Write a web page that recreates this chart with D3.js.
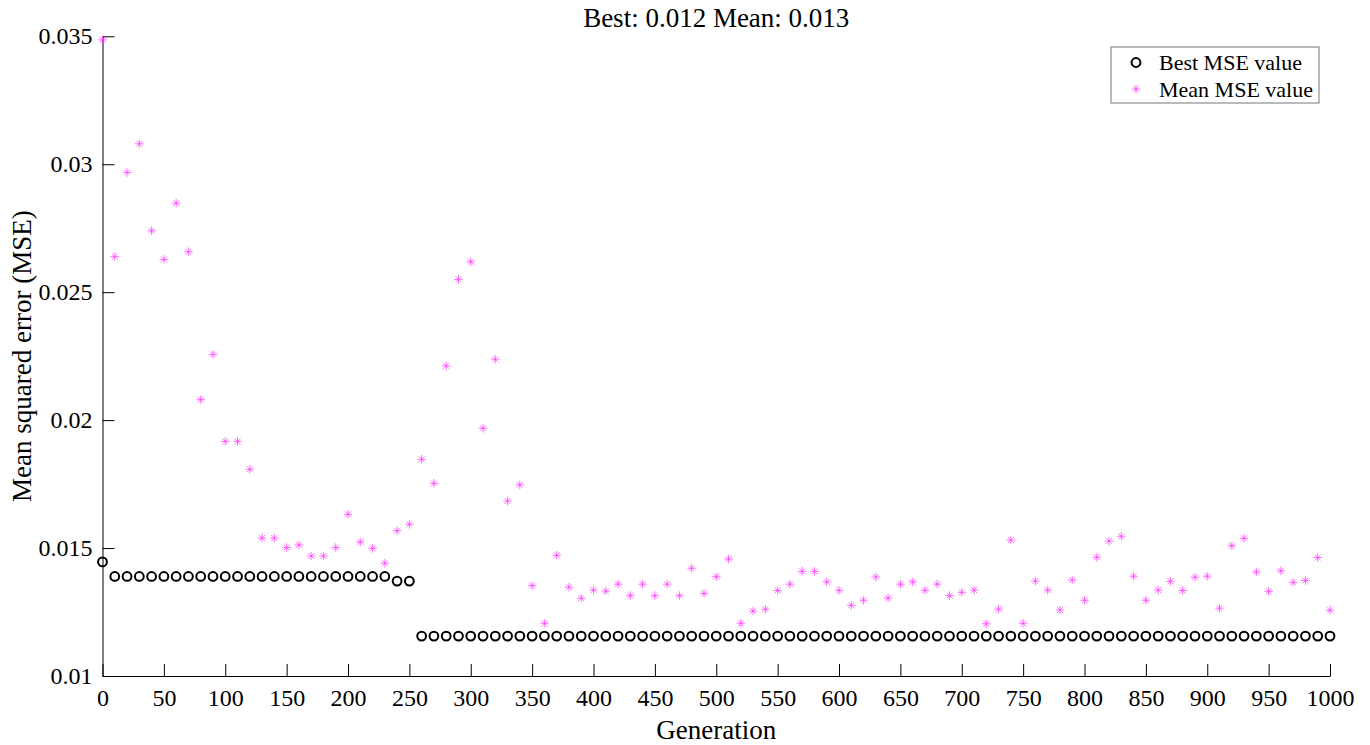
<!DOCTYPE html>
<html>
<head>
<meta charset="utf-8">
<script src="https://cdn.jsdelivr.net/npm/d3@7"></script>
<style>
  body { margin: 0; background: #fff; }
  text { font-family: "Liberation Serif", "Times New Roman", serif; }
</style>
</head>
<body>
<script>
const width = 1370;
const height = 745;
const margin = {top: 36.3, left: 102.5, bottom: 69, right: 40};

// generations sampled every 10
const generations = d3.range(0, 1001, 10);

const bestMSE = [
  0.01446,
  0.01389, 0.01389, 0.01389, 0.01389, 0.01389, 0.01389, 0.01389, 0.01389, 0.01389, 0.01389,
  0.01389, 0.01389, 0.01389, 0.01389, 0.01389, 0.01389, 0.01389, 0.01389, 0.01389, 0.01389,
  0.01389, 0.01389, 0.01389,
  0.01371, 0.01371,
  0.01156, 0.01156, 0.01156, 0.01156, 0.01156, 0.01156, 0.01156, 0.01156, 0.01156, 0.01156,
  0.01156, 0.01156, 0.01156, 0.01156, 0.01156, 0.01156, 0.01156, 0.01156, 0.01156, 0.01156,
  0.01156, 0.01156, 0.01156, 0.01156, 0.01156, 0.01156, 0.01156, 0.01156, 0.01156, 0.01156,
  0.01156, 0.01156, 0.01156, 0.01156, 0.01156, 0.01156, 0.01156, 0.01156, 0.01156, 0.01156,
  0.01156, 0.01156, 0.01156, 0.01156, 0.01156, 0.01156, 0.01156, 0.01156, 0.01156, 0.01156,
  0.01156, 0.01156, 0.01156, 0.01156, 0.01156, 0.01156, 0.01156, 0.01156, 0.01156, 0.01156,
  0.01156, 0.01156, 0.01156, 0.01156, 0.01156, 0.01156, 0.01156, 0.01156, 0.01156, 0.01156,
  0.01156, 0.01156, 0.01156, 0.01156, 0.01156
];

const meanMSE = [
  0.03486, 0.02639, 0.02968, 0.03080, 0.02740, 0.02628, 0.02848, 0.02658, 0.02080, 0.02257,
  0.01917, 0.01917, 0.01808, 0.01539, 0.01539, 0.01502, 0.01512, 0.01469, 0.01469, 0.01502,
  0.01632, 0.01524, 0.01499, 0.01441, 0.01568, 0.01593, 0.01847, 0.01753, 0.02212, 0.02550,
  0.02619, 0.01968, 0.02238, 0.01684, 0.01747, 0.01353, 0.01206, 0.01472, 0.01347, 0.01304,
  0.01336, 0.01332, 0.01359, 0.01314, 0.01359, 0.01314, 0.01359, 0.01314, 0.01421, 0.01323,
  0.01388, 0.01457, 0.01206, 0.01254, 0.01261, 0.01334, 0.01359, 0.01409, 0.01409, 0.01368,
  0.01335, 0.01276, 0.01296, 0.01387, 0.01305, 0.01359, 0.01368, 0.01335, 0.01359, 0.01314,
  0.01327, 0.01336, 0.01204, 0.01261, 0.01531, 0.01206, 0.01371, 0.01336, 0.01258, 0.01375,
  0.01296, 0.01464, 0.01527, 0.01546, 0.01390, 0.01296, 0.01336, 0.01370, 0.01334, 0.01386,
  0.01390, 0.01265, 0.01509, 0.01538, 0.01407, 0.01331, 0.01411, 0.01366, 0.01373, 0.01463,
  0.01257
];

const xTicks = d3.range(0, 1001, 50);
const yTicks = [0.01, 0.015, 0.02, 0.025, 0.03, 0.035];
const yTickLabels = ['0.01', '0.015', '0.02', '0.025', '0.03', '0.035'];

const titleText = 'Best: 0.012 Mean: 0.013';
const legendLabels = ['Best MSE value', 'Mean MSE value'];

const x = d3.scaleLinear()
  .domain([0, 1000])
  .range([margin.left, 1330]);

const y = d3.scaleLinear()
  .domain([0.01, 0.035])
  .range([height - margin.bottom, margin.top]);

const svg = d3.select('body').append('svg')
  .attr('width', width).attr('height', height);

const xAxis = g => g
  .attr('transform', `translate(0, ${y(0.01)})`)
  .call(d3.axisBottom(x).tickValues(xTicks).tickFormat(d3.format('d'))
    .tickSizeInner(-12).tickSizeOuter(0).tickPadding(13))
  .call(g => g.selectAll('text').attr('font-size', 24).attr('fill', '#000').attr('font-family', 'Liberation Serif'))
  .call(g => g.selectAll('line, path').attr('stroke', '#000'));

const yAxis = g => g
  .attr('transform', `translate(${x(0)}, 0)`)
  .call(d3.axisLeft(y).tickValues(yTicks).tickFormat((d, i) => yTickLabels[i])
    .tickSizeInner(-12).tickSizeOuter(0).tickPadding(10))
  .call(g => g.selectAll('text').attr('font-size', 24).attr('fill', '#000').attr('font-family', 'Liberation Serif'))
  .call(g => g.selectAll('line, path').attr('stroke', '#000'));

svg.append('g').call(xAxis);
svg.append('g').call(yAxis);

const asterisk = 'M-4.3,0L4.3,0M0,-4.3L0,4.3M-3,-3L3,3M-3,3L3,-3';

// mean markers
svg.append('g')
  .selectAll('path').data(meanMSE).enter().append('path')
  .attr('transform', (d, i) => `translate(${x(generations[i])},${y(d)})`)
  .attr('d', asterisk)
  .attr('fill', 'none')
  .attr('stroke', '#ff33ff')
  .attr('stroke-width', 0.7);

// best markers
svg.append('g')
  .selectAll('circle').data(bestMSE).enter().append('circle')
  .attr('cx', (d, i) => x(generations[i]))
  .attr('cy', d => y(d))
  .attr('r', 4.4)
  .attr('fill', 'none')
  .attr('stroke', '#000')
  .attr('stroke-width', 2);

// title and axis labels
svg.append('text')
  .attr('x', (x(0) + x(1000)) / 2).attr('y', 27)
  .attr('text-anchor', 'middle').attr('font-size', 27)
  .text(titleText);

svg.append('text')
  .attr('x', (x(0) + x(1000)) / 2).attr('y', 739)
  .attr('text-anchor', 'middle').attr('font-size', 27)
  .text('Generation');

svg.append('text')
  .attr('transform', `translate(31, ${(y(0.01) + y(0.035)) / 2}) rotate(-90)`)
  .attr('text-anchor', 'middle').attr('font-size', 27)
  .text('Mean squared error (MSE)');

// legend
const legend = svg.append('g').attr('transform', 'translate(1111, 47)');
legend.append('rect')
  .attr('width', 208).attr('height', 56)
  .attr('fill', '#fff').attr('stroke', '#777').attr('stroke-width', 1);
legend.append('circle')
  .attr('cx', 25).attr('cy', 15.5).attr('r', 4.4)
  .attr('fill', 'none').attr('stroke', '#000').attr('stroke-width', 2);
legend.append('path')
  .attr('transform', 'translate(25, 42)')
  .attr('d', asterisk)
  .attr('fill', 'none').attr('stroke', '#ff33ff').attr('stroke-width', 0.7);
legend.selectAll('text.lab').data(legendLabels).enter().append('text')
  .attr('class', 'lab')
  .attr('x', 48).attr('y', (d, i) => 23 + i * 26.5)
  .attr('font-size', 22)
  .text(d => d);

svg.node();
</script>
</body>
</html>
